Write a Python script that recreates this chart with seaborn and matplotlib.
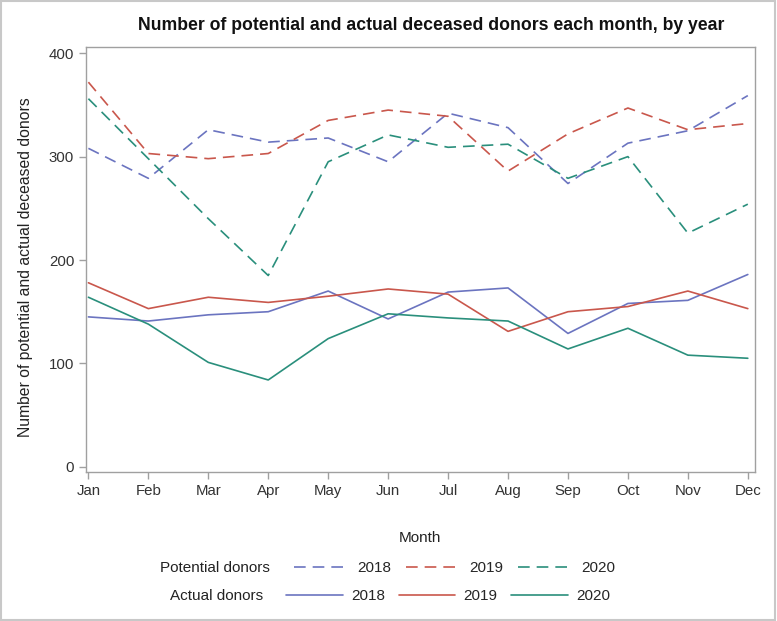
import matplotlib
matplotlib.use("Agg")
import matplotlib.pyplot as plt
import seaborn as sns
import pandas as pd
from matplotlib.lines import Line2D
from matplotlib.patches import Rectangle

months = ["Jan", "Feb", "Mar", "Apr", "May", "Jun", "Jul", "Aug", "Sep", "Oct", "Nov", "Dec"]
years = ["2018", "2019", "2020"]

potential_2018 = [308, 279, 326, 314, 318, 295, 342, 328, 274, 313, 325, 359]
potential_2019 = [372, 303, 298, 303, 335, 345, 339, 286, 322, 347, 326, 332]
potential_2020 = [356, 298, 240, 185, 295, 321, 309, 312, 279, 300, 226, 254]

actual_2018 = [145, 141, 147, 150, 170, 143, 169, 173, 129, 158, 161, 186]
actual_2019 = [178, 153, 164, 159, 165, 172, 167, 131, 150, 155, 170, 153]
actual_2020 = [164, 138, 101, 84, 124, 148, 144, 141, 114, 134, 108, 105]

colors = {"2018": "#6b74c0", "2019": "#c9574c", "2020": "#2a8f7c"}

rows = []
for yr, vals in zip(years, [potential_2018, potential_2019, potential_2020]):
    for m, v in zip(months, vals):
        rows.append({"Month": m, "Donors": v, "Year": yr, "Type": "Potential"})
for yr, vals in zip(years, [actual_2018, actual_2019, actual_2020]):
    for m, v in zip(months, vals):
        rows.append({"Month": m, "Donors": v, "Year": yr, "Type": "Actual"})
df = pd.DataFrame(rows)

sns.set_theme(style="white")
plt.rcParams["font.family"] = ["Liberation Sans", "DejaVu Sans"]

fig = plt.figure(figsize=(7.77, 6.21), dpi=100)
ax = fig.add_axes([86/777, 1-472/621, (755-86)/777, (472-47)/621])

dash_pat = (7.0, 4.2)
sns.lineplot(data=df, x="Month", y="Donors", hue="Year", style="Type",
             palette=colors, dashes={"Potential": dash_pat, "Actual": ""},
             linewidth=1.2, legend=False, sort=False, ax=ax, estimator=None)

ax.set_xlim(-0.04, 11.12)
ax.set_ylim(-5, 406)
ax.set_yticks([0, 100, 200, 300, 400])
ax.set_xticks(range(12))
ax.set_xticklabels(months)
for s in ax.spines.values():
    s.set_color("#a0a0a0")
    s.set_linewidth(1)
ax.tick_params(axis="both", which="both", length=5, width=1, color="#a0a0a0",
               labelsize=10.8, labelcolor="#333333", direction="out", bottom=True, left=True)
ax.set_xlabel("Month", fontsize=11, color="#222222")
ax.xaxis.set_label_coords((420-86)/669, -(531-472)/425)
ax.set_ylabel("Number of potential and actual deceased donors", fontsize=11.3,
              color="#222222")
ax.yaxis.set_label_coords(-(86-33)/669, (472-267)/425)
ax.set_title("Number of potential and actual deceased donors each month, by year",
             fontsize=12.7, fontweight="bold", color="#111111", pad=12, x=(431-86)/669)

# legend rows
fig.text(270/777, 1-568/621, "Potential donors", ha="right", va="center", fontsize=11, color="#222222")
fig.text(263/777, 1-596/621, "Actual donors", ha="right", va="center", fontsize=11, color="#222222")
h_pot = [Line2D([0], [0], color=colors[y], lw=1.2, dashes=dash_pat) for y in years]
h_act = [Line2D([0], [0], color=colors[y], lw=1.2) for y in years]
leg1 = fig.legend(h_pot, years, ncol=3, loc="center left", bbox_to_anchor=(294/777, 1-568/621),
                  frameon=False, fontsize=11, handlelength=3.3, columnspacing=0.95,
                  handletextpad=0.85, borderpad=0, borderaxespad=0)
leg2 = fig.legend(h_act, years, ncol=3, loc="center left", bbox_to_anchor=(286/777, 1-596/621),
                  frameon=False, fontsize=11, handlelength=3.7, columnspacing=0.9,
                  handletextpad=0.55, borderpad=0, borderaxespad=0)

fig.patches.append(Rectangle((0.001, 0.001), 0.997, 0.997, transform=fig.transFigure,
                             fill=False, edgecolor="#c8c8c8", linewidth=1.5))

fig.savefig("out.png", dpi=100)
